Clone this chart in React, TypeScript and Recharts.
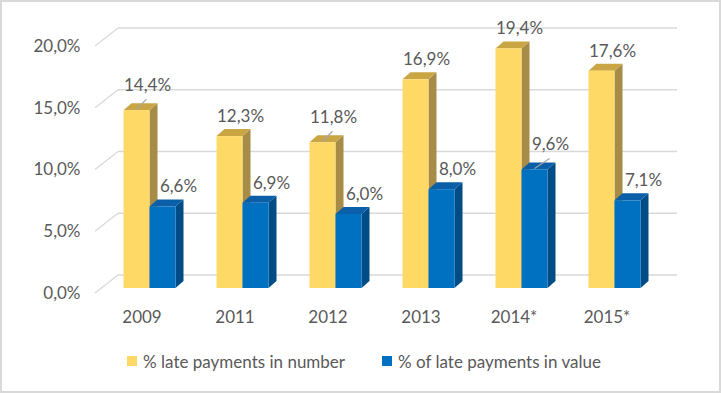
import React from 'react';
import { BarChart, Bar, XAxis, YAxis, CartesianGrid, LabelList, Legend } from 'recharts';

const categories = ['2009', '2011', '2012', '2013', '2014*', '2015*'];
const numberPct = [14.4, 12.3, 11.8, 16.9, 19.4, 17.6];
const valuePct = [6.6, 6.9, 6.0, 8.0, 9.6, 7.1];
const yTicks = [0, 5, 10, 15, 20];
const seriesNames = ['% late payments in number', '% of late payments in value'];
const numberLeader = [true, false, true, false, false, false];
const valueLeader = [false, false, false, false, true, false];

const data = categories.map((c, i) => ({ year: c, number: numberPct[i], value: valuePct[i] }));

const FONT = 'Lato, "Open Sans", sans-serif';
const TXT = '#595959';
const GRID = '#D9D9D9';
const DX = 8;
const DY = 7;
const WALL_DX = 15.5;
const WALL_DY = 13;

const fmt = (v: number) => v.toFixed(1).replace('.', ',') + '%';

const makeShape = (front: string, top: string, side: string) => (props: any) => {
  const { x, y, width, height } = props;
  if (width == null || height == null) return <g />;
  const r = x + width;
  const b = y + height;
  return (
    <g>
      <polygon points={`${r},${y} ${r + DX},${y - DY} ${r + DX},${b - DY} ${r},${b}`} fill={side} />
      <polygon points={`${x},${y} ${x + DX},${y - DY} ${r + DX},${y - DY} ${r},${y}`} fill={top} />
      <rect x={x} y={y} width={width} height={height} fill={front} />
    </g>
  );
};

const makeLabel = (offX: number, leaders: boolean[]) => (props: any) => {
  const { x, y, width, value, index } = props;
  const lead = leaders[index];
  const cx = x + width / 2;
  const lx = cx + offX;
  const ly = lead ? y - 25 : y - 20;
  return (
    <g>
      {lead && <line x1={cx} y1={y - 1} x2={cx + offX - 1} y2={y - 11} stroke="#A6A6A6" strokeWidth={1.2} />}
      <text x={lx} y={ly} dy="0.35em" textAnchor="middle" fill={TXT} fontSize={17} fontFamily={FONT}>
        {fmt(Number(value))}
      </text>
    </g>
  );
};

const gridLine = (p: any) => {
  const { x1, x2, y1, key, index } = p;
  return (
    <g key={key ?? `g-${index}-${y1}`}>
      <line x1={x1 + WALL_DX} y1={y1 - WALL_DY} x2={x2 + WALL_DX + 1} y2={y1 - WALL_DY} stroke={GRID} strokeWidth={1.3} />
      <line x1={x1 - 7.5} y1={y1 + 5} x2={x1 + WALL_DX} y2={y1 - WALL_DY} stroke={GRID} strokeWidth={1.3} />
    </g>
  );
};

const YTick = (props: any) => {
  const { x, y, payload } = props;
  return (
    <text x={x} y={y + 5} dy="0.35em" textAnchor="end" fill={TXT} fontSize={17} fontFamily={FONT}>
      {fmt(Number(payload.value))}
    </text>
  );
};

const XTick = (props: any) => {
  const { x, y, payload } = props;
  return (
    <text x={x - 7} y={y} dy="0.35em" textAnchor="middle" fill={TXT} fontSize={17} fontFamily={FONT}>
      {payload.value}
    </text>
  );
};

const legendColors = ['#FFD966', '#0070C0'];

const LegendContent = () => (
  <div style={{ display: 'flex', justifyContent: 'center', alignItems: 'center', height: 30, paddingLeft: 7, fontFamily: FONT, fontSize: 17, color: TXT }}>
    {seriesNames.map((n, i) => (
      <div key={n} style={{ display: 'flex', alignItems: 'center', marginRight: i === 0 ? 37 : 0 }}>
        <span style={{ display: 'inline-block', width: 10, height: 10, background: legendColors[i], marginRight: 6 }} />
        <span>{n}</span>
      </div>
    ))}
  </div>
);

export default function App() {
  return (
    <div style={{ position: 'absolute', left: 0, top: 0, width: 721, height: 393, background: '#fff' }}>
      <BarChart
        width={721}
        height={393}
        data={data}
        margin={{ top: 41, right: 60.5, left: 22.5, bottom: 35 }}
        barSize={26}
        barGap={0}
      >
        <CartesianGrid vertical={false} horizontal={gridLine} />
        <XAxis dataKey="year" axisLine={false} tickLine={false} tickSize={0} tickMargin={29} height={40} tick={<XTick />} interval={0} />
        <YAxis width={80} domain={[0, 20]} ticks={yTicks} axisLine={false} tickLine={false} tickSize={0} tickMargin={22} tick={<YTick />} />
        <Legend verticalAlign="bottom" height={30} content={<LegendContent />} wrapperStyle={{ top: 346, bottom: 'auto', left: 0, width: 721 }} />
        <Bar dataKey="number" name={seriesNames[0]} fill="#FFD966" isAnimationActive={false} shape={makeShape('#FFD966', '#C9A544', '#A68C47')}>
          <LabelList dataKey="number" content={makeLabel(11, numberLeader)} />
        </Bar>
        <Bar dataKey="value" name={seriesNames[1]} fill="#0070C0" isAnimationActive={false} shape={makeShape('#0070C0', '#0A5FA8', '#004C86')}>
          <LabelList dataKey="value" content={makeLabel(16, valueLeader)} />
        </Bar>
      </BarChart>
      <div style={{ position: 'absolute', left: 0, top: 0, width: 721, height: 393, boxSizing: 'border-box', border: '2px solid #D9D9D9', pointerEvents: 'none' }} />
    </div>
  );
}
